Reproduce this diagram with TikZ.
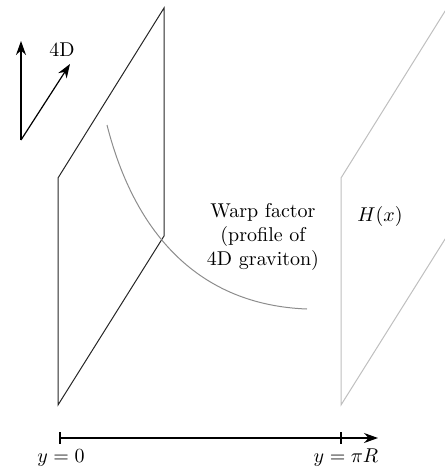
\documentclass[tikz,border=0pt]{standalone}
\usepackage{amsmath, amssymb}
\usetikzlibrary{arrows, arrows.meta, positioning}

\begin{document}
\begin{tikzpicture}[x=0.5pt, y=-0.5pt]
    \tikzstyle{brane} = [draw=black!85, line width=0.5pt]
    \tikzstyle{farbrane} = [draw=black!25, line width=0.5pt]
    \tikzstyle{arrow} = [semithick,-{Stealth[length=7pt, width=5pt]}]
    \tikzstyle{label} = [inner sep=1pt, font=\normalsize]

    \useasboundingbox (0,0) rectangle (445,467);

    % Planck brane and TeV brane
    \coordinate (pbl) at (58,405);
    \coordinate (ptl) at (58,178);
    \coordinate (ptr) at (164,8);
    \coordinate (pbr) at (164,236);
    \draw [brane] (pbl) -- (ptl) -- (ptr) -- (pbr) -- cycle;

    \coordinate (tbl) at (341,405);
    \coordinate (ttl) at (341,178);
    \coordinate (ttr) at (447,8);
    \coordinate (tbr) at (447,236);
    \draw [farbrane] (tbl) -- (ttl) -- (ttr) -- (tbr) -- cycle;

    % 4D directions
    \coordinate (o) at (21,140);
    \coordinate (up) at (21,41);
    \coordinate (fw) at (70,64);
    \draw [arrow] (o) -- (up);
    \draw [arrow] (o) -- (fw);
    \node [label] (fourd) at (62,50) {4D};

    % warp factor
    \coordinate (ws) at (107,125);
    \coordinate (we) at (307,309);
    \draw [black!45, line width=0.5pt] (ws) .. controls (135,235) and (200,305) .. (we);
    \node [label, align=center] (warp) at (263,237) {Warp factor\\(profile of\\4D graviton)};
    \node [label] (higgs) at (380,216) {$H(x)$};

    % extra dimension
    \coordinate (y0) at (60,438);
    \coordinate (ypi) at (341,438);
    \coordinate (yend) at (378,438);
    \draw [arrow] (y0) -- (yend);
    \draw [semithick] (60,432) -- (60,444);
    \draw [semithick] (341,432) -- (341,444);
    \node [label] (lzero) at (61,458) {$y=0$};
    \node [label] (lpi) at (346,458) {$y=\pi R$};
\end{tikzpicture}
\end{document}
